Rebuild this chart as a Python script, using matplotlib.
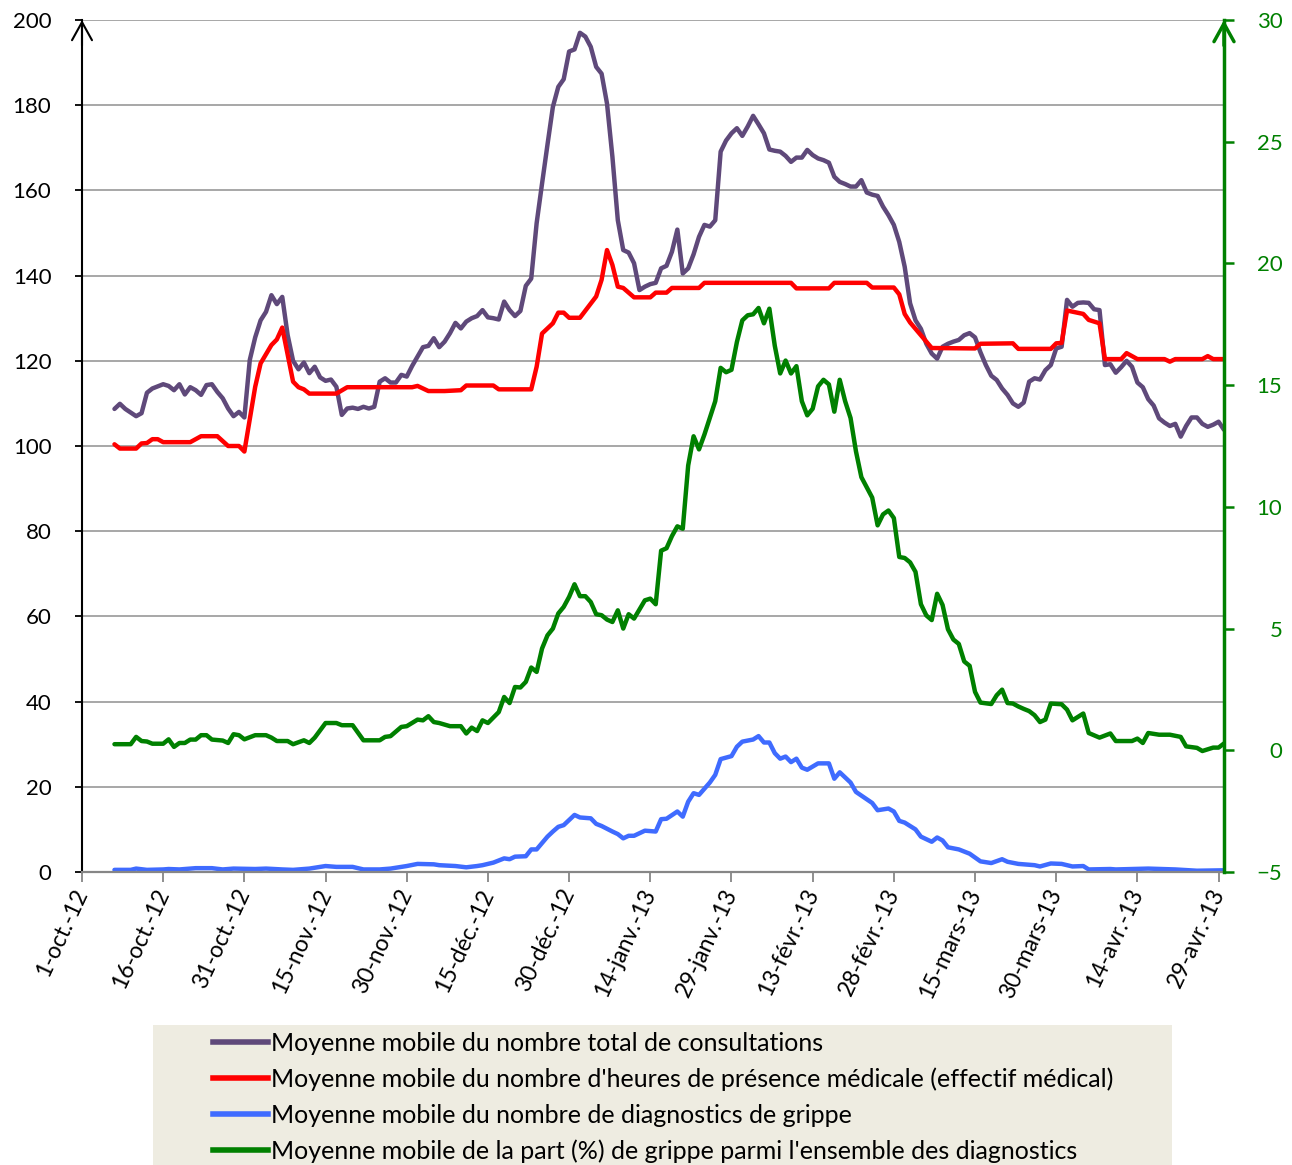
import numpy as np
import pandas as pd
import matplotlib
matplotlib.use("Agg")
import matplotlib.pyplot as plt
from matplotlib.lines import Line2D
from matplotlib.patches import Rectangle

plt.rcParams["font.family"] = ["Lato", "DejaVu Sans"]

START = pd.Timestamp("2012-10-01")
END = pd.Timestamp("2013-04-30")

# (days since 1-oct-12, value)
consultations = [
    (6, 108.7), (7, 109.9), (8, 108.7), (10, 107), (11, 107.7), (12, 112.5), (13, 113.5),
    (15, 114.5), (16, 114.1), (17, 113.1), (18, 114.5), (19, 112.1), (20, 113.8), (21, 113.1),
    (22, 112), (23, 114.3), (24, 114.5), (25, 112.7), (26, 111.2), (27, 108.8), (28, 107),
    (29, 108), (30, 106.7), (31, 120.2), (32, 125.5), (33, 129.5), (34, 131.5), (35, 135.4),
    (36, 133.3), (37, 135), (38, 126), (39, 120), (40, 118), (41, 119.6), (42, 117.1),
    (43, 118.6), (44, 116.1), (45, 115.3), (46, 115.6), (47, 113.9), (48, 107.3), (49, 108.8),
    (50, 109), (51, 108.7), (52, 109.2), (53, 108.8), (54, 109.2), (55, 115.1), (56, 115.9),
    (57, 114.9), (58, 114.9), (59, 116.7), (60, 116.3), (61, 118.8), (62, 121), (63, 123.2),
    (64, 123.5), (65, 125.3), (66, 123.2), (67, 124.5), (68, 126.5), (69, 128.9), (70, 127.6),
    (71, 129.2), (72, 130), (73, 130.5), (74, 131.9), (75, 130.2), (76, 130), (77, 129.7),
    (78, 133.9), (79, 131.9), (80, 130.5), (81, 131.7), (82, 137.6), (83, 139.3), (84, 152.3),
    (85, 161.6), (86, 170.7), (87, 179.6), (88, 184.3), (89, 186.1), (90, 192.6), (91, 193.1),
    (92, 197), (93, 196.1), (94, 193.7), (95, 189), (96, 187.4), (97, 180.4), (98, 167.9),
    (99, 153), (100, 146), (101, 145.4), (102, 142.9), (103, 136.6), (104, 137.4), (105, 138),
    (106, 138.3), (107, 141.7), (108, 142.3), (109, 145.6), (110, 150.8), (111, 140.5),
    (112, 141.7), (113, 145), (114, 149.1), (115, 151.9), (116, 151.5), (117, 153), (118, 169.1),
    (119, 171.7), (120, 173.4), (121, 174.6), (122, 172.8), (123, 175), (124, 177.5),
    (125, 175.5), (126, 173.4), (127, 169.6), (128, 169.3), (129, 169.1), (130, 168.1),
    (131, 166.7), (132, 167.7), (133, 167.7), (134, 169.5), (135, 168.3), (136, 167.5),
    (137, 167.1), (138, 166.5), (139, 163.2), (140, 162), (141, 161.5), (142, 160.9),
    (143, 160.9), (144, 162.4), (145, 159.5), (146, 159), (147, 158.7), (148, 156.2),
    (149, 154.2), (150, 151.9), (151, 147.9), (152, 142.1), (153, 133.5), (154, 129.5),
    (155, 127.5), (156, 124), (157, 121.7), (158, 120.5), (159, 123.3), (160, 124),
    (161, 124.5), (162, 124.9), (163, 126), (164, 126.5), (165, 125.5), (166, 122), (167, 119),
    (168, 116.5), (169, 115.5), (170, 113.5), (171, 112), (172, 110), (173, 109.2),
    (174, 110.2), (175, 115.1), (176, 115.9), (177, 115.6), (178, 117.8), (179, 119),
    (180, 122.9), (181, 123.3), (182, 134.3), (183, 132.7), (184, 133.6), (185, 133.7),
    (186, 133.6), (187, 132.1), (188, 131.9), (189, 119), (190, 119.2), (191, 117.2),
    (192, 118.5), (193, 120), (194, 118.6), (195, 114.9), (196, 113.8), (197, 111),
    (198, 109.5), (199, 106.5), (200, 105.5), (201, 104.7), (202, 105.2), (203, 102.2),
    (204, 104.7), (205, 106.7), (206, 106.7), (207, 105.2), (208, 104.5), (209, 105),
    (210, 105.7), (211, 103.8),
]

heures_medicales = [
    (6, 100.4), (7, 99.4), (10, 99.4), (11, 100.6), (12, 100.7), (13, 101.6), (14, 101.6),
    (15, 100.9), (20, 100.9), (22, 102.3), (25, 102.3), (27, 100), (29, 100), (30, 98.7),
    (32, 113.9), (33, 119.4), (35, 123.7), (36, 125), (37, 127.8), (39, 115.1), (40, 113.8),
    (41, 113.3), (42, 112.3), (47, 112.3), (49, 113.8), (61, 113.8), (62, 114.1), (64, 112.9),
    (67, 112.9), (70, 113.1), (71, 114.2), (76, 114.2), (77, 113.3), (83, 113.3), (84, 118.6),
    (85, 126.4), (87, 128.8), (88, 131.3), (89, 131.3), (90, 130.1), (92, 130.1), (95, 135.1),
    (96, 139), (97, 146), (98, 142.5), (99, 137.4), (100, 137.1), (102, 134.9), (105, 134.9),
    (106, 136), (108, 136), (109, 137.1), (114, 137.1), (115, 138.3), (131, 138.3), (132, 137),
    (138, 137), (139, 138.3), (145, 138.3), (146, 137.2), (150, 137.2), (151, 135.6),
    (152, 131), (153, 129), (154, 127.5), (157, 123), (165, 122.9), (166, 124), (172, 124.1),
    (173, 122.8), (179, 122.8), (180, 124.1), (181, 124.2), (182, 131.8), (185, 131),
    (186, 129.6), (188, 128.8), (189, 120.4), (192, 120.4), (193, 121.8), (195, 120.4),
    (200, 120.4), (201, 119.8), (202, 120.4), (207, 120.4), (208, 121.1), (209, 120.4),
    (211, 120.4),
]

diagnostics_grippe = [
    (6, 0.5), (9, 0.5), (10, 0.8), (12, 0.5), (15, 0.6), (16, 0.7), (18, 0.6), (21, 0.9),
    (24, 0.9), (26, 0.6), (28, 0.8), (32, 0.7), (34, 0.8), (37, 0.6), (39, 0.5), (42, 0.8),
    (45, 1.4), (47, 1.2), (50, 1.2), (52, 0.6), (55, 0.6), (57, 0.8), (60, 1.4), (62, 1.9),
    (65, 1.8), (66, 1.6), (69, 1.4), (71, 1.1), (73, 1.4), (74, 1.6), (76, 2.2), (78, 3.2),
    (79, 3.0), (80, 3.6), (82, 3.7), (83, 5.3), (84, 5.3), (86, 8.3), (87, 9.5), (88, 10.6),
    (89, 11.0), (91, 13.4), (92, 12.8), (94, 12.6), (95, 11.3), (96, 10.8), (98, 9.5),
    (99, 8.9), (100, 7.9), (101, 8.5), (102, 8.5), (104, 9.7), (106, 9.5), (107, 12.4),
    (108, 12.5), (110, 14.2), (111, 13.0), (112, 16.5), (113, 18.5), (114, 18.1), (116, 21.0),
    (117, 22.8), (118, 26.5), (120, 27.2), (121, 29.4), (122, 30.6), (124, 31.1), (125, 31.9),
    (126, 30.4), (127, 30.4), (128, 27.9), (129, 26.6), (130, 27.1), (131, 25.8), (132, 26.6),
    (133, 24.5), (134, 24.0), (136, 25.5), (138, 25.5), (139, 21.9), (140, 23.4), (142, 21.0),
    (143, 18.8), (146, 16.2), (147, 14.5), (149, 14.9), (150, 14.2), (151, 12.0), (152, 11.6),
    (154, 10.0), (155, 8.3), (157, 7.1), (158, 8.1), (159, 7.4), (160, 5.8), (162, 5.3),
    (164, 4.3), (166, 2.5), (168, 2.1), (170, 3.0), (171, 2.4), (173, 1.9), (176, 1.6),
    (177, 1.3), (179, 2.0), (181, 1.9), (183, 1.3), (185, 1.4), (186, 0.6), (190, 0.7),
    (191, 0.6), (197, 0.8), (202, 0.6), (206, 0.3), (211, 0.4),
]

part_grippe = [
    (6, 0.25), (9, 0.25), (10, 0.55), (11, 0.38), (12, 0.36), (13, 0.27), (15, 0.27),
    (16, 0.45), (17, 0.14), (18, 0.3), (19, 0.3), (20, 0.44), (21, 0.44), (22, 0.62),
    (23, 0.62), (24, 0.44), (26, 0.4), (27, 0.3), (28, 0.66), (29, 0.62), (30, 0.45),
    (32, 0.62), (34, 0.62), (35, 0.52), (36, 0.38), (38, 0.38), (39, 0.25), (41, 0.41),
    (42, 0.3), (43, 0.52), (45, 1.12), (47, 1.12), (48, 1.03), (50, 1.03), (52, 0.41),
    (55, 0.41), (56, 0.55), (57, 0.58), (59, 0.96), (60, 0.99), (62, 1.26), (63, 1.23),
    (64, 1.4), (65, 1.16), (66, 1.12), (68, 0.99), (70, 0.99), (71, 0.69), (72, 0.93),
    (73, 0.79), (74, 1.23), (75, 1.12), (77, 1.57), (78, 2.19), (79, 1.94), (80, 2.6),
    (81, 2.58), (82, 2.81), (83, 3.4), (84, 3.22), (85, 4.18), (86, 4.72), (87, 5.0),
    (88, 5.62), (89, 5.89), (90, 6.3), (91, 6.82), (92, 6.33), (93, 6.33), (94, 6.09),
    (95, 5.59), (96, 5.55), (97, 5.37), (98, 5.27), (99, 5.75), (100, 5.0), (101, 5.59),
    (102, 5.41), (104, 6.16), (105, 6.23), (106, 6.0), (107, 8.2), (108, 8.3), (109, 8.8),
    (110, 9.2), (111, 9.1), (112, 11.7), (113, 12.9), (114, 12.36), (115, 12.97), (117, 14.34),
    (118, 15.71), (119, 15.53), (120, 15.63), (121, 16.77), (122, 17.66), (123, 17.87),
    (124, 17.91), (125, 18.17), (126, 17.54), (127, 18.14), (128, 16.62), (129, 15.48),
    (130, 16.01), (131, 15.48), (132, 15.78), (133, 14.34), (134, 13.76), (135, 14.03),
    (136, 14.95), (137, 15.22), (138, 15.03), (139, 13.91), (140, 15.22), (141, 14.34),
    (142, 13.65), (143, 12.28), (144, 11.22), (146, 10.38), (147, 9.24), (148, 9.69),
    (149, 9.85), (150, 9.54), (151, 7.94), (152, 7.9), (153, 7.72), (154, 7.33), (155, 6.0),
    (156, 5.54), (157, 5.35), (158, 6.43), (159, 5.97), (160, 4.97), (161, 4.55), (162, 4.37),
    (163, 3.65), (164, 3.47), (165, 2.4), (166, 1.96), (167, 1.93), (168, 1.9), (169, 2.26),
    (170, 2.49), (171, 1.94), (172, 1.92), (173, 1.8), (174, 1.7), (175, 1.61), (176, 1.44),
    (177, 1.16), (178, 1.26), (179, 1.92), (181, 1.89), (182, 1.67), (183, 1.23), (185, 1.51),
    (186, 0.71), (188, 0.52), (190, 0.69), (191, 0.38), (194, 0.38), (195, 0.48), (196, 0.3),
    (197, 0.71), (199, 0.64), (201, 0.64), (203, 0.55), (204, 0.16), (206, 0.1), (207, -0.03),
    (209, 0.11), (210, 0.11), (211, 0.28),
]

tick_labels = [
    "1-oct.-12", "16-oct.-12", "31-oct.-12", "15-nov.-12", "30-nov.-12", "15-déc.-12",
    "30-déc.-12", "14-janv.-13", "29-janv.-13", "13-févr.-13", "28-févr.-13", "15-mars-13",
    "30-mars-13", "14-avr.-13", "29-avr.-13",
]

legend_labels = [
    "Moyenne mobile du nombre total de consultations",
    "Moyenne mobile du nombre d'heures de présence médicale (effectif médical)",
    "Moyenne mobile du nombre de diagnostics de grippe",
    "Moyenne mobile de la part (%) de grippe parmi l'ensemble des diagnostics",
]

COLORS = ["#5F497A", "#FF0000", "#3F6BFF", "#008000"]


def to_series(pts):
    days, vals = zip(*pts)
    return START + pd.to_timedelta(np.array(days), unit="D"), np.array(vals)


W, H = 1292, 1165
fig = plt.figure(figsize=(W / 100, H / 100), dpi=100)
ax = fig.add_axes([82 / W, 1 - 872 / H, (1224 - 82) / W, (872 - 20) / H])
ax2 = ax.twinx()

for pts, col in zip([consultations, heures_medicales, diagnostics_grippe], COLORS[:3]):
    x, y = to_series(pts)
    ax.plot(x, y, color=col, lw=3.2, solid_joinstyle="round", solid_capstyle="round")
x, y = to_series(part_grippe)
ax2.plot(x, y, color=COLORS[3], lw=3.2, solid_joinstyle="round", solid_capstyle="round")

ax.set_xlim(START, END)
ax.set_ylim(0, 200)
ax.set_yticks(range(0, 201, 20))
ax2.set_ylim(-5, 30)
ax2.set_yticks(range(-5, 31, 5))

ticks = pd.date_range(START, periods=len(tick_labels), freq="15D")
ax.set_xticks(ticks)
ax.set_xticklabels(tick_labels, rotation=65, ha="right", va="center",
                   rotation_mode="anchor", fontsize=16.5)
ax.tick_params(axis="x", direction="out", length=7, width=1.3, color="#868686", pad=6)
ax.tick_params(axis="y", direction="out", length=5, width=1.3, color="black",
               labelsize=16, pad=17)
ax2.tick_params(axis="y", direction="out", length=7, width=1.8, color="#008000",
                labelcolor="#008000", labelsize=16, pad=35)
for lbl in ax2.get_yticklabels():
    lbl.set_horizontalalignment("right")

ax.grid(axis="y", color="#A0A0A0", lw=1.3)
ax.set_axisbelow(True)

for s in ["top", "right"]:
    ax.spines[s].set_visible(False)
ax.spines["left"].set_color("black")
ax.spines["left"].set_linewidth(1.5)
ax.spines["bottom"].set_color("#868686")
ax.spines["bottom"].set_linewidth(1.6)
for s in ["top", "left", "bottom"]:
    ax2.spines[s].set_visible(False)
ax2.spines["right"].set_color("#008000")
ax2.spines["right"].set_linewidth(2.5)

# arrow heads on both vertical axes
ax.annotate("", xy=(0, 1.0), xytext=(0, 0.97), xycoords="axes fraction",
            annotation_clip=False,
            arrowprops=dict(arrowstyle="->,head_length=0.65,head_width=0.36",
                            mutation_scale=20, lw=1.5, color="black",
                            shrinkA=0, shrinkB=0))
ax2.annotate("", xy=(1, 1.0), xytext=(1, 0.97), xycoords="axes fraction",
             annotation_clip=False,
             arrowprops=dict(arrowstyle="->,head_length=0.65,head_width=0.36",
                             mutation_scale=20, lw=2.5, color="#008000",
                             shrinkA=0, shrinkB=0))

# legend on a beige band
fig.add_artist(Rectangle((153 / W, 0), (1172 - 153) / W, (1165 - 1025) / H,
                         transform=fig.transFigure, facecolor="#EEECE1",
                         edgecolor="none", zorder=0))
handles = [Line2D([], [], color=c, lw=4) for c in COLORS]
fig.legend(handles, legend_labels, loc="upper left",
           bbox_to_anchor=(213 / W, 1 - 1032 / H), frameon=False,
           handlelength=2.2, handletextpad=0.12, labelspacing=0.5,
           borderpad=0, borderaxespad=0, fontsize=18)

fig.savefig("out.png", dpi=100)
